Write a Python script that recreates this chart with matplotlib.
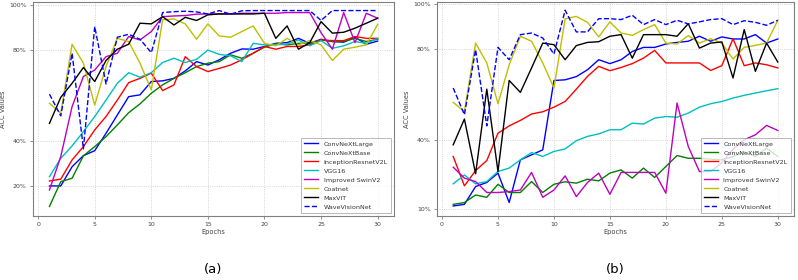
import matplotlib
matplotlib.use("Agg")
import matplotlib.pyplot as plt
import numpy as np

epochs = list(range(1, 31))
models = ["ConvNeXtLarge", "ConvNeXtBase", "InceptionResnetV2L", "VGG16",
          "Improved SwinV2", "Coatnet", "MaxViT", "WaveVisionNet"]

# (a)
a_convnext_large = [20, 20, 28.5, 33.4, 35.6, 43.3, 51.4, 59.5, 60.3, 66.2, 66.5, 67.6, 70.9, 75, 73.5,
                    75.8, 78.7, 80.6, 80.5, 81.7, 83.1, 83.4, 85.3, 83.1, 84.9, 83.9, 83.6, 85.8, 82.7, 84.1]
a_convnext_base = [10.9, 21.9, 23.4, 33.3, 37.4, 41.8, 47, 52.4, 56.3, 61, 64.7, 67.6, 70.1, 72.8, 74.3,
                   75, 78, 76.5, 78.7, 81.4, 82.9, 82.4, 83.1, 83.1, 84.6, 83.9, 83.9, 85.3, 83.9, 84.9]
a_inception = [22.2, 23, 31.5, 37.4, 44.8, 50.7, 58, 65.7, 67.6, 69.9, 62.2, 64.7, 77.2, 72.8, 70.6,
               72, 73.5, 75.8, 78.7, 81.7, 80.5, 81.7, 81.7, 82.4, 84.6, 84.3, 84.3, 86.1, 85.3, 85.3]
a_vgg16 = [24.1, 32.2, 37.7, 44, 50.7, 58, 65.4, 70.1, 68.1, 70.1, 74.6, 76.5, 74.6, 76, 80.1,
           78.2, 77.6, 75, 83.1, 82.4, 82.4, 82.8, 84.6, 82, 84.3, 80.9, 82, 83.9, 83.1, 85.3]
a_swinv2 = [18.2, 33, 55.1, 68.4, 71.3, 77.2, 78.7, 86.1, 84.6, 88.3, 94.9, 95.2, 95.4, 96, 96.1,
            96.1, 96.1, 96.4, 96.4, 96.4, 96.4, 96.7, 96.7, 96.7, 87.8, 80.5, 96.7, 83.4, 96.4, 94.2]
a_coatnet = [56.6, 52.2, 82.7, 74.3, 55.8, 72.8, 85.3, 83.9, 74.3, 62.5, 93.5, 93.9, 91.7, 84.9, 91.7,
             86.4, 85.8, 88.3, 90.8, 83.1, 82, 85.3, 82.4, 84.3, 82.4, 75.5, 80.5, 81.4, 82.4, 91.5]
a_maxvit = [47.7, 59.2, 65.4, 72.4, 66.2, 75.5, 80.5, 82.7, 92, 91.7, 94.9, 91.2, 94.6, 93.2, 95.7,
            96.1, 96.1, 96.1, 96.1, 96.4, 85.3, 90.8, 80.5, 83.4, 92.7, 87.6, 88, 89.8, 92, 94.2]
a_wavevision = [60.6, 51, 78.7, 36.4, 90.5, 65.1, 85.8, 87.1, 84.9, 79, 96.7, 97.1, 97.3, 97, 96.1,
                97.6, 96, 97.5, 97.6, 97.6, 97.6, 97.6, 97.6, 97.6, 93.2, 97.6, 97.6, 97.6, 97.6, 97.6]

# (b)
b_convnext_large = [11.3, 12, 19.8, 21.6, 25.7, 12.8, 31.5, 33.7, 35.9, 66.3, 66.6, 68, 71, 75.4, 73.7,
                    75.4, 79, 80.8, 80.8, 82.3, 83, 83.5, 85.7, 83.5, 85.4, 84.5, 84.5, 86.4, 82.7, 84.5]
b_convnext_base = [12, 12.8, 16.1, 15.1, 20.8, 17.2, 17.2, 22, 17.2, 20.8, 21.9, 21.3, 23, 22.3, 25.7,
                   27.1, 23.5, 27.9, 23.8, 28.6, 33.4, 32.2, 32.2, 31.8, 31.5, 33, 35, 33, 36.6, 33]
b_inception = [33, 20.1, 26.8, 31.2, 43.2, 46.4, 48.8, 51.6, 52.6, 54.6, 57.1, 62.5, 68.1, 72.5, 70.6,
               72, 73.7, 76.1, 79.5, 74, 74, 74, 74, 70.7, 72.8, 84.6, 72.8, 74, 73.2, 71.8]
b_vgg16 = [21, 24.9, 21, 22, 26.4, 27.9, 31.5, 34.7, 33, 35.2, 36.3, 39.9, 41.8, 42.9, 44.7,
           44.7, 47.6, 47.2, 49.8, 50.5, 50.2, 52, 54.6, 56.1, 57.1, 58.6, 59.8, 60.8, 61.8, 62.7]
b_swinv2 = [28.3, 23.5, 22, 17.2, 17.2, 17.6, 18.3, 26, 15.1, 18.3, 24.5, 15.4, 21.6, 25.7, 16.4,
            26, 26, 26, 26, 16.9, 56.4, 37.4, 26.4, 26.4, 30.3, 36.2, 40.3, 42.5, 46.6, 44.4]
b_coatnet = [56.7, 52.7, 82.7, 74, 56.1, 73.2, 85.7, 83.5, 74, 63, 93.3, 94.4, 91.8, 85.4, 92,
             87.1, 86.1, 88.6, 90.8, 82.7, 82.3, 86, 82.7, 84.6, 82.7, 75.7, 80.8, 81.7, 82.7, 92.7]
b_maxvit = [38.1, 49.4, 25.4, 62.5, 26.4, 66.3, 61.1, 71.8, 82.7, 82, 75.4, 81.6, 83, 83.3, 85.7,
            86.4, 76.1, 86.4, 86.4, 86.4, 85.7, 91.2, 80.5, 82.7, 83.2, 67.4, 88.6, 70.3, 82.7, 74.4]
b_wavevision = [63, 51.3, 79.8, 46.4, 80.8, 75.4, 86.4, 87.1, 84.9, 77.9, 97.1, 87.6, 87.6, 93.4, 93.4,
                93, 94.9, 90.8, 93, 90.8, 92.7, 91.1, 92, 93, 93.4, 90.8, 92.5, 91.8, 90.5, 92.7]

styles = [("b", "-"), ("g", "-"), ("r", "-"), ("c", "-"), ("m", "-"), ("y", "-"), ("k", "-"), ("b", "--")]

a_series = [a_convnext_large, a_convnext_base, a_inception, a_vgg16, a_swinv2, a_coatnet, a_maxvit, a_wavevision]
b_series = [b_convnext_large, b_convnext_base, b_inception, b_vgg16, b_swinv2, b_coatnet, b_maxvit, b_wavevision]

a_yticks = [20, 40, 80, 100]
b_yticks = [10, 40, 80, 100]

fig = plt.figure(figsize=(7.98, 2.8), dpi=100)
ax1 = fig.add_axes([0.0414, 0.2286, 0.4524, 0.7660])
ax2 = fig.add_axes([0.5476, 0.2286, 0.4474, 0.7650])

def draw(ax, series, yticks, ylim, label):
    for s, (c, ls), name in zip(series, styles, models):
        ax.plot(epochs, s, color=c, linestyle=ls, linewidth=1.0, label=name)
    ax.set_ylim(*ylim)
    ax.set_xlim(-0.45, 31.45)
    ax.set_yticks(yticks)
    ax.set_yticklabels([f"{t}%" for t in yticks])
    ax.set_xticks([0, 5, 10, 15, 20, 25, 30])
    ax.grid(True, linestyle=":", color="#c8c8c8", linewidth=0.6)
    for sp in ax.spines.values():
        sp.set_color("#808080")
        sp.set_linewidth(0.8)
    ax.tick_params(labelsize=4.5, colors="#444444", length=2.5, width=0.6, pad=2)
    ax.tick_params(axis="both", color="#808080")
    ax.set_xlabel("Epochs", fontsize=4.8, color="#444444", labelpad=1)
    ax.set_ylabel("ACC Values", fontsize=4.8, color="#444444", labelpad=2)
    leg = ax.legend(loc="lower right", fontsize=4.6, handlelength=2.2, labelspacing=0.55,
                    borderpad=0.5, framealpha=0.8, edgecolor="#999999", fancybox=False)
    leg.get_frame().set_linewidth(0.6)
    for t in leg.get_texts():
        t.set_color("#333333")
    ax.text(0.5, -0.22, label, transform=ax.transAxes, ha="center", va="top", fontsize=9.5)

draw(ax1, a_series, a_yticks, (6.7, 101.6), "(a)")
draw(ax2, b_series, b_yticks, (6.9, 100.8), "(b)")

fig.savefig("out.png", dpi=100)
